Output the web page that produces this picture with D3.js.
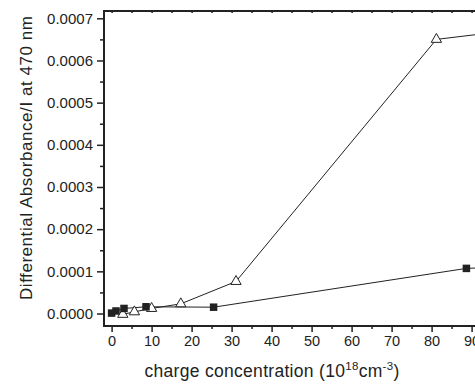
<!DOCTYPE html>
<html><head><meta charset="utf-8">
<script src="https://cdn.jsdelivr.net/npm/d3@7"></script>
<style>body{margin:0;background:#fff;} svg{display:block;font-family:Arial,"Liberation Sans",sans-serif;}</style>
</head><body>
<svg id="c" width="475" height="384"></svg>
<script>
const squareX = [0, 1.1, 3.1, 8.6, 25.5, 88.7, 97];
const squareY = [0.000001, 0.000006, 0.000012, 0.000016, 0.000015, 0.000107, 0.000110];
const triangleX = [2.8, 5.7, 10.0, 17.3, 31.1, 81.2, 97];
const triangleY = [-0.000002, 0.000004, 0.000012, 0.000023, 0.000076, 0.000650, 0.000668];
const xTicks = [0, 10, 20, 30, 40, 50, 60, 70, 80, 90];
const yTicks = [0, 0.0001, 0.0002, 0.0003, 0.0004, 0.0005, 0.0006, 0.0007];

const svg = d3.select("#c");
const L = 104, T = 11, B = 326, R = 500;
const x = d3.scaleLinear().domain([-1.9, 97.1]).range([L, R]);
const y = d3.scaleLinear().domain([-0.0000296, 0.0007173]).range([B, T]);

const xMinor = d3.range(5, 100, 10);
const yMinor = d3.range(0.00005, 0.0007, 0.0001);

// bottom axis
svg.append("g").attr("class", "xa").attr("transform", `translate(0,${B})`)
  .call(d3.axisBottom(x).tickValues(xTicks).tickFormat(d3.format("d")).tickSize(6).tickPadding(4));
svg.append("g").attr("transform", `translate(0,${B})`)
  .call(d3.axisBottom(x).tickValues(xMinor).tickFormat("").tickSize(3))
  .select(".domain").remove();
// left axis
svg.append("g").attr("class", "ya").attr("transform", `translate(${L},0)`)
  .call(d3.axisLeft(y).tickValues(yTicks).tickFormat(d3.format(".4f")).tickSize(7).tickPadding(4));
svg.append("g").attr("transform", `translate(${L},0)`)
  .call(d3.axisLeft(y).tickValues(yMinor).tickFormat("").tickSize(4))
  .select(".domain").remove();
// top axis (inner ticks)
svg.append("g").attr("transform", `translate(0,${T})`)
  .call(d3.axisTop(x).tickValues(xTicks.concat(xMinor)).tickFormat("").tickSize(-2))
  .call(g => g.selectAll("line").attr("stroke", "#bbb"))
  .select(".domain").remove();

svg.selectAll(".domain").remove();
svg.selectAll(".tick line").attr("stroke-width", 1.5).attr("stroke", "#222");
svg.selectAll(".tick text").attr("fill", "#222")
  .attr("font-family", "Arial, 'Liberation Sans', sans-serif");
svg.selectAll(".xa .tick text").attr("font-size", 14.5);
svg.selectAll(".ya .tick text").attr("font-size", 15);

// frame
svg.append("path")
  .attr("d", `M${L},${T}H${R}V${B}H${L}Z`)
  .attr("fill", "none").attr("stroke", "#222").attr("stroke-width", 2);

const sq = squareX.map((d, i) => [d, squareY[i]]);
const tr = triangleX.map((d, i) => [d, triangleY[i]]);
const line = d3.line().x(d => x(d[0])).y(d => y(d[1]));

svg.append("path").datum(sq).attr("d", line).attr("fill", "none").attr("stroke", "#222").attr("stroke-width", 1);
svg.append("path").datum(tr).attr("d", line).attr("fill", "none").attr("stroke", "#222").attr("stroke-width", 1);

svg.selectAll(".tri").data(tr).enter().append("path")
  .attr("transform", d => `translate(${x(d[0])},${y(d[1])})`)
  .attr("d", d3.symbol().type(d3.symbolTriangle).size(46))
  .attr("fill", "#fff").attr("stroke", "#222").attr("stroke-width", 1);

svg.selectAll(".sq").data(sq).enter().append("rect")
  .attr("x", d => x(d[0]) - 3.75).attr("y", d => y(d[1]) - 3.75)
  .attr("width", 7.5).attr("height", 7.5).attr("fill", "#222");

// axis titles
svg.append("text").attr("x", 272).attr("y", 377).attr("text-anchor", "middle")
  .attr("font-size", 17.5).attr("letter-spacing", 0.3).attr("fill", "#222")
  .html('charge concentration (10<tspan dy="-7" font-size="11.5">18</tspan><tspan dy="7">cm</tspan><tspan dy="-7" font-size="11.5">-3</tspan><tspan dy="7">)</tspan>');
svg.append("text").attr("transform", "translate(32,158) rotate(-90)").attr("text-anchor", "middle")
  .attr("font-size", 17).attr("fill", "#222")
  .attr("textLength", 284).attr("lengthAdjust", "spacing")
  .text("Differential Absorbance/I at 470 nm");
</script>
</body></html>
